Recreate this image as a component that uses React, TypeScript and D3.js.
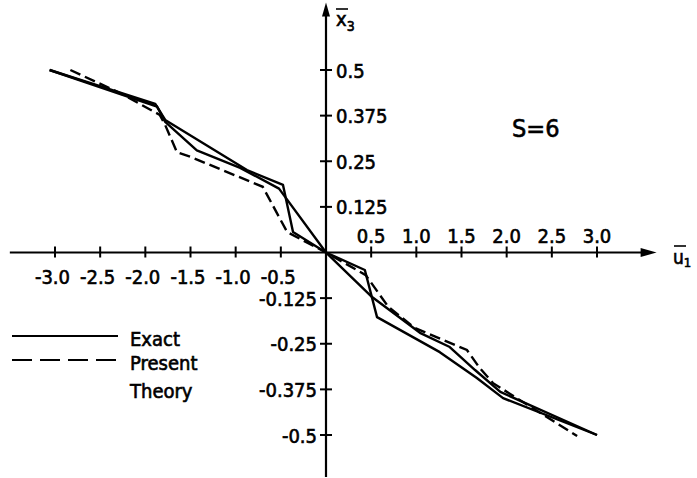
import React from 'react'
import * as d3 from 'd3'

// tick positions and labels
const xTicks = [-3, -2.5, -2, -1.5, -1, -0.5, 0.5, 1, 1.5, 2, 2.5, 3]
const xTickLabels = ['-3.0', '-2.5', '-2.0', '-1.5', '-1.0', '-0.5', '0.5', '1.0', '1.5', '2.0', '2.5', '3.0']
const yTicks = [0.5, 0.375, 0.25, 0.125, -0.125, -0.25, -0.375, -0.5]
const yTickLabels = ['0.5', '0.375', '0.25', '0.125', '-0.125', '-0.25', '-0.375', '-0.5']

// how far the axis lines run (data units)
const xAxisExtent = [-3.5, 3.66]
const yAxisExtent = [-0.615, 0.685]

// series: [u1, x3]
const exactA: [number, number][] = [
  [-3.06, 0.5], [-1.89, 0.407], [-1.78, 0.363], [-0.875, 0.226], [-0.476, 0.185],
  [-0.365, 0.056], [0, 0], [0.43, -0.048], [0.565, -0.177], [1.26, -0.273],
  [1.67, -0.344], [1.96, -0.399], [3.0, -0.5],
]
const exactB: [number, number][] = [
  [-3.06, 0.5], [-1.87, 0.4], [-1.78, 0.358], [-1.43, 0.28], [-0.95, 0.232],
  [-0.52, 0.175], [0, 0], [0.51, -0.122], [1.04, -0.22], [1.37, -0.259],
  [1.65, -0.322], [1.93, -0.382], [3.0, -0.5],
]
const present: [number, number][] = [
  [-2.83, 0.5], [-2.28, 0.437], [-1.84, 0.377], [-1.78, 0.349], [-1.65, 0.275],
  [-1.5, 0.262], [-0.7, 0.18], [-0.43, 0.056], [0, 0], [0.44, -0.062],
  [0.69, -0.149], [0.985, -0.207], [1.56, -0.267], [1.7, -0.316], [1.85, -0.358],
  [2.78, -0.503],
]

const font = "'DejaVu Sans Condensed', 'DejaVu Sans', sans-serif"

export default function App() {
  const x = d3.scaleLinear().domain([-3, 3]).range([55, 597])
  const y = d3.scaleLinear().domain([-0.5, 0.5]).range([435, 70])
  const line = d3.line<[number, number]>().x(d => x(d[0])).y(d => y(d[1]))

  const x0 = x(0), y0 = y(0)
  const xr = x(xAxisExtent[1]), yt = y(yAxisExtent[1])

  return (
    <svg width={697} height={478} style={{ position: 'absolute', left: 0, top: 0, background: '#fff' }}
      fontFamily={font} fontStretch="condensed">
      {/* axes */}
      <line x1={x(xAxisExtent[0])} y1={y0} x2={xr - 12} y2={y0} stroke="#000" strokeWidth={2.2} />
      <path d={`M${xr},${y0} L${xr - 16},${y0 - 4.5} L${xr - 16},${y0 + 4.5} Z`} fill="#000" />
      <line x1={x0} y1={y(yAxisExtent[0])} x2={x0} y2={yt + 10} stroke="#000" strokeWidth={2.2} />
      <path d={`M${x0},${yt} L${x0 - 4},${yt + 14} L${x0 + 4},${yt + 14} Z`} fill="#000" />

      <g stroke="#000" strokeWidth={0.6}>
        {xTicks.map((t, i) => (
          <g key={'xt' + i}>
            <line x1={x(t)} x2={x(t)} y1={y0 - 6} y2={y0 + 5} strokeWidth={2} />
            {t < 0 ? (
              <text x={x(t) + 15} y={y0 + 31} textAnchor="end" fontSize={20}>{xTickLabels[i]}</text>
            ) : (
              <text x={x(t)} y={y0 - 10} textAnchor="middle" fontSize={20}>{xTickLabels[i]}</text>
            )}
          </g>
        ))}
        {yTicks.map((t, i) => (
          <g key={'yt' + i}>
            <line x1={x0 - 6} x2={x0 + 6} y1={y(t)} y2={y(t)} strokeWidth={2} />
            {t > 0 ? (
              <text x={x0 + 10} y={y(t) + 7.5} textAnchor="start" fontSize={20}>{yTickLabels[i]}</text>
            ) : (
              <text x={x0 - 9} y={y(t) + 7.5} textAnchor="end" fontSize={20}>{yTickLabels[i]}</text>
            )}
          </g>
        ))}

        {/* axis titles */}
        <line x1={x0 + 10} x2={x0 + 22} y1={9} y2={9} strokeWidth={1.6} />
        <text x={x0 + 10} y={26} fontSize={20}>x<tspan fontSize={14} dy={5}>3</tspan></text>
        <line x1={674} x2={686} y1={246} y2={246} strokeWidth={1.6} />
        <text x={673} y={264} fontSize={19}>u<tspan fontSize={13} dy={3}>1</tspan></text>

        <text x={512} y={137} fontSize={25}>S=6</text>

        <text x={130} y={346} fontSize={20}>Exact</text>
        <text x={130} y={370} fontSize={20}>Present</text>
        <text x={130} y={398} fontSize={20}>Theory</text>
      </g>

      {/* curves */}
      <path d={line(exactA) || ''} fill="none" stroke="#000" strokeWidth={2.4} strokeLinejoin="round" />
      <path d={line(exactB) || ''} fill="none" stroke="#000" strokeWidth={2.4} strokeLinejoin="round" />
      <path d={line(present) || ''} fill="none" stroke="#000" strokeWidth={2.4} strokeDasharray="11,5" />

      {/* legend */}
      <line x1={12} x2={118} y1={336} y2={336} stroke="#000" strokeWidth={2.2} />
      <line x1={12} x2={118} y1={360} y2={360} stroke="#000" strokeWidth={2.2} strokeDasharray="20,8" />
    </svg>
  )
}
